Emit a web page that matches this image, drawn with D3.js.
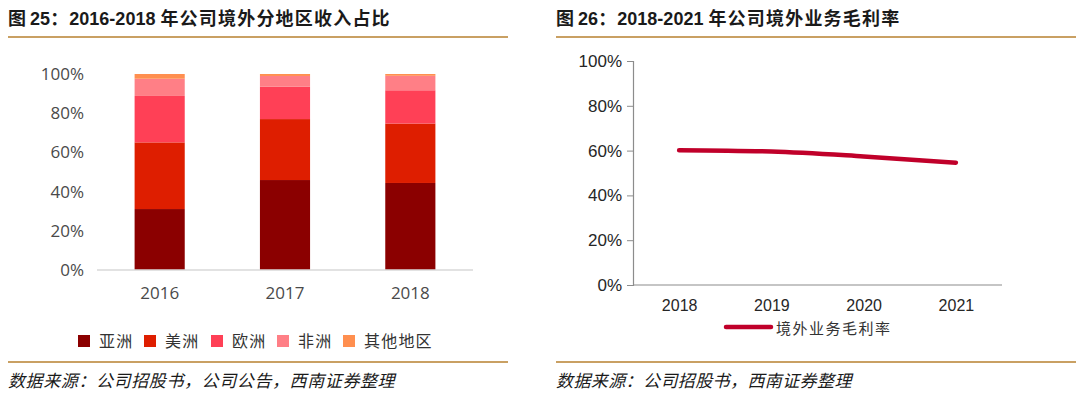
<!DOCTYPE html>
<html>
<head>
<meta charset="utf-8">
<script src="https://cdn.jsdelivr.net/npm/d3@7"></script>
<style>
  body { margin: 0; background: #fff; }
  svg { display: block; }
</style>
</head>
<body>
<svg id="chart" width="1080" height="394"></svg>
<script>
// left panel: overseas revenue share by region
const years = ['2016', '2017', '2018'];
const regions = ['亚洲', '美洲', '欧洲', '非洲', '其他地区'];
const asia = [31.1, 45.9, 44.4];
const america = [34.0, 31.1, 30.3];
const europe = [23.7, 16.5, 17.0];
const africa = [8.8, 5.5, 7.4];
const others = [2.4, 1.0, 0.9];
const shareTicks = [0, 20, 40, 60, 80, 100];

// right panel: overseas gross margin
const marginYears = ['2018', '2019', '2020', '2021'];
const marginValues = [60.2, 59.6, 57.4, 54.6];
const marginName = '境外业务毛利率';

const regionColors = ['#8b0000', '#de1e00', '#ff4056', '#ff7f86', '#ff8f4f'];
const GOLD = '#c9a063';
const CJK = '"Noto Sans CJK SC", sans-serif';

const svg = d3.select('#chart');

/* ---------- frame: titles, rules, source notes ---------- */
function titleText(x, label, nums, rest) {
	const t = svg.append('text')
		.attr('x', x).attr('y', 25)
		.attr('font-size', 18)
		.attr('font-weight', 'bold')
		.attr('fill', '#1a1a1a');
	t.append('tspan').attr('font-family', CJK).text(label);
	t.append('tspan').attr('font-family', '"Liberation Sans", Arial, sans-serif').text(nums);
	t.append('tspan').attr('font-family', CJK).attr('letter-spacing', 1.2).text(rest);
}
titleText(8, '图 ', '25', '：');
svg.select('text:last-of-type').append('tspan')
	.attr('font-family', '"Liberation Sans", Arial, sans-serif').text('2016-2018 ');
svg.select('text:last-of-type').append('tspan')
	.attr('font-family', CJK).attr('letter-spacing', 1.2).text('年公司境外分地区收入占比');
titleText(556, '图 ', '26', '：');
svg.select('text:last-of-type').append('tspan')
	.attr('font-family', '"Liberation Sans", Arial, sans-serif').text('2018-2021 ');
svg.select('text:last-of-type').append('tspan')
	.attr('font-family', CJK).attr('letter-spacing', 1.2).text('年公司境外业务毛利率');

[[8, 508], [556, 1076]].forEach(([x1, x2]) => {
	svg.append('line').attr('x1', x1).attr('x2', x2).attr('y1', 37).attr('y2', 37)
		.attr('stroke', GOLD).attr('stroke-width', 2);
	svg.append('line').attr('x1', x1).attr('x2', x2).attr('y1', 362).attr('y2', 362)
		.attr('stroke', GOLD).attr('stroke-width', 2);
});

svg.append('text').attr('x', 8).attr('y', 387)
	.attr('font-family', CJK).attr('font-size', 17).attr('font-style', 'italic')
	.attr('letter-spacing', 0.6).attr('fill', '#1a1a1a')
	.text('数据来源：公司招股书，公司公告，西南证券整理');
svg.append('text').attr('x', 556).attr('y', 387)
	.attr('font-family', CJK).attr('font-size', 17).attr('font-style', 'italic')
	.attr('letter-spacing', 0.4).attr('fill', '#1a1a1a')
	.text('数据来源：公司招股书，西南证券整理');

/* ---------- left: stacked bars ---------- */
const rows = years.map((yr, i) => ({
	year: yr,
	'亚洲': asia[i], '美洲': america[i], '欧洲': europe[i], '非洲': africa[i], '其他地区': others[i]
}));
const stacked = d3.stack().keys(regions)(rows);

const xBand = d3.scaleBand().domain(years).range([97, 473]).paddingInner(0.6).paddingOuter(0.3);
const yShare = d3.scaleLinear().domain([0, 100]).range([270, 74]);

const left = svg.append('g');
left.selectAll('g.series')
	.data(stacked)
	.join('g')
	.attr('class', 'series')
	.attr('fill', (d, i) => regionColors[i])
	.selectAll('rect')
	.data(d => d)
	.join('rect')
	.attr('x', d => xBand(d.data.year))
	.attr('width', xBand.bandwidth())
	.attr('y', d => yShare(d[1]))
	.attr('height', d => yShare(d[0]) - yShare(d[1]));

left.append('line')
	.attr('x1', 97).attr('x2', 473)
	.attr('y1', yShare(0)).attr('y2', yShare(0))
	.attr('stroke', '#d9d9d9').attr('stroke-width', 1.5);

const leftY = left.append('g')
	.attr('transform', 'translate(84,0)')
	.call(d3.axisLeft(yShare).tickValues(shareTicks).tickFormat(d => d + '%').tickSize(0).tickPadding(0));
leftY.select('.domain').remove();
leftY.selectAll('text')
	.attr('font-family', '"Open Sans", sans-serif').attr('font-size', 17).attr('fill', '#4a4a4a');

const leftX = left.append('g')
	.attr('transform', 'translate(0,' + yShare(0) + ')')
	.call(d3.axisBottom(xBand).tickSize(0).tickPadding(17));
leftX.select('.domain').remove();
leftX.selectAll('text')
	.attr('font-family', '"Open Sans", sans-serif').attr('font-size', 17).attr('fill', '#4a4a4a');

// legend
const legendX = [78, 144, 211, 277, 343];
const legend = left.selectAll('g.legend')
	.data(regions)
	.join('g')
	.attr('class', 'legend')
	.attr('transform', (d, i) => `translate(${legendX[i]},341)`);
legend.append('rect')
	.attr('x', 0).attr('y', -6).attr('width', 12).attr('height', 12)
	.attr('fill', (d, i) => regionColors[i]);
legend.append('text')
	.attr('x', 21).attr('y', 6)
	.attr('font-family', CJK).attr('font-size', 16).attr('letter-spacing', 1.2).attr('fill', '#333')
	.text(d => d);

/* ---------- right: gross margin line ---------- */
const xPoint = d3.scalePoint().domain(marginYears).range([633, 1002]).padding(0.5);
const yMargin = d3.scaleLinear().domain([0, 100]).range([285, 61]);

const right = svg.append('g');
const rightY = right.append('g')
	.attr('transform', 'translate(633,0)')
	.call(d3.axisLeft(yMargin).tickValues(shareTicks).tickFormat(d => d + '%').tickSize(6).tickPadding(5));
rightY.select('.domain').attr('stroke', '#8c8c8c').attr('stroke-width', 1.2);
rightY.selectAll('.tick line').attr('stroke', '#8c8c8c');
rightY.selectAll('text')
	.attr('font-family', '"Liberation Sans", Arial, sans-serif').attr('font-size', 17).attr('fill', '#262626');

const rightX = right.append('g')
	.attr('transform', 'translate(0,285)')
	.call(d3.axisBottom(xPoint).tickSize(0).tickPadding(15));
rightX.select('.domain').attr('stroke', '#8c8c8c').attr('stroke-width', 1.2).attr('d', 'M633,0H1002');
rightX.selectAll('text')
	.attr('font-family', '"Liberation Sans", Arial, sans-serif').attr('font-size', 16).attr('fill', '#262626');

const line = d3.line()
	.x((d, i) => xPoint(marginYears[i]))
	.y(d => yMargin(d))
	.curve(d3.curveMonotoneX);
right.append('path')
	.datum(marginValues)
	.attr('d', line)
	.attr('fill', 'none')
	.attr('stroke', '#c0002a')
	.attr('stroke-width', 4.5)
	.attr('stroke-linecap', 'round');

right.append('line')
	.attr('x1', 726).attr('x2', 771).attr('y1', 327).attr('y2', 327)
	.attr('stroke', '#c0002a').attr('stroke-width', 4.5).attr('stroke-linecap', 'round');
right.append('text')
	.attr('x', 776).attr('y', 334)
	.attr('font-family', CJK).attr('font-size', 15).attr('letter-spacing', 1.5).attr('fill', '#333')
	.text(marginName);
</script>
</body>
</html>
